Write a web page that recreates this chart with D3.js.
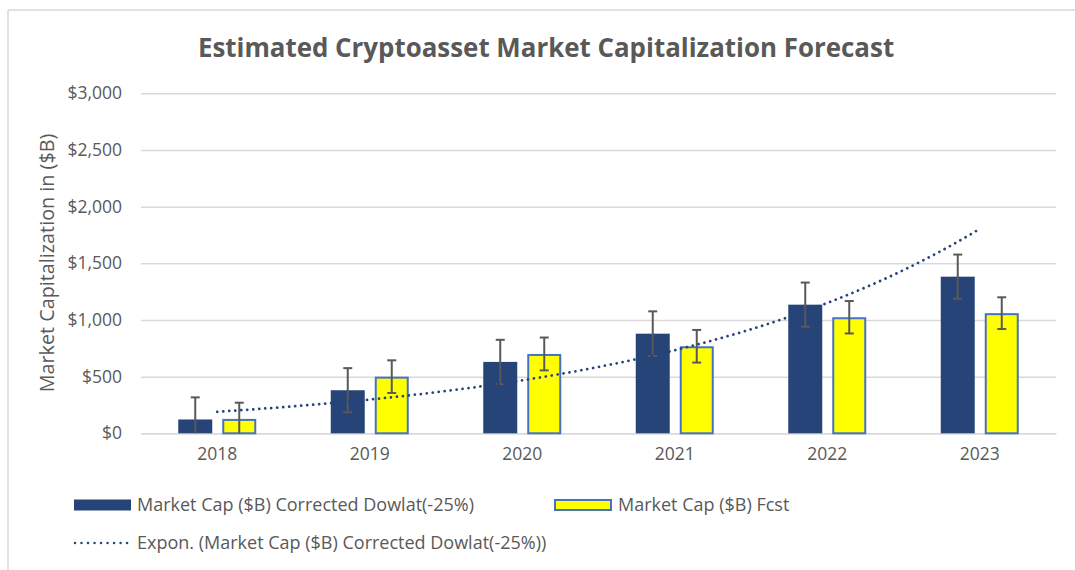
<!DOCTYPE html>
<html>
<head>
<meta charset="utf-8">
<script src="https://cdn.jsdelivr.net/npm/d3@7"></script>
<style>
  body { margin: 0; background: #fff; }
  text { font-family: "Open Sans", sans-serif; fill: #595959; }
</style>
</head>
<body>
<div id="chart"></div>
<script>
// data
var years = ["2018", "2019", "2020", "2021", "2022", "2023"];
var corrected = [122, 380, 630, 879, 1135, 1382];   // Market Cap ($B) Corrected Dowlat(-25%)
var fcst = [127, 500, 700, 768, 1024, 1060];        // Market Cap ($B) Fcst
var errCorrected = [195, 195, 195, 197, 195, 195];
var errFcst = [143, 144, 145, 144, 143, 140];
var yTicks = [0, 500, 1000, 1500, 2000, 2500, 3000];
var seriesNames = ["Market Cap ($B) Corrected Dowlat(-25%)", "Market Cap ($B) Fcst"];
var trendName = "Expon. (Market Cap ($B) Corrected Dowlat(-25%))";

var W = 1075, H = 570;
var plot = {left: 141, right: 1056, top: 93.3, bottom: 433.3};
var darkBlue = "#264478", yellow = "#FFFF00", yellowEdge = "#4472C4", grid = "#d9d9d9";

var svg = d3.select("#chart").append("svg")
    .attr("width", W)
    .attr("height", H);

// chart frame (only top and left edges show)
svg.append("line").attr("x1", 8).attr("x2", W).attr("y1", 10).attr("y2", 10)
  .attr("stroke", grid).attr("stroke-width", 1.5);
svg.append("line").attr("x1", 8).attr("x2", 8).attr("y1", 10).attr("y2", H)
  .attr("stroke", grid).attr("stroke-width", 1.5);

// title
svg.append("text")
  .attr("x", 546).attr("y", 57)
  .attr("text-anchor", "middle")
  .style("font-size", "25.9px")
  .style("font-weight", "bold")
  .text("Estimated Cryptoasset Market Capitalization Forecast");

// scales
var x = d3.scaleBand().domain(years).range([plot.left, plot.right]).padding(0);
var x1 = d3.scaleBand().domain([0, 1])
  .range([(x.bandwidth() - 78) / 2, (x.bandwidth() + 78) / 2])
  .paddingInner(10 / 44).paddingOuter(0);
var y = d3.scaleLinear().domain([0, 3000]).range([plot.bottom, plot.top]);

// gridlines + y labels
var yAxis = svg.append("g")
  .attr("transform", "translate(" + plot.left + ",0)")
  .call(d3.axisLeft(y).tickValues(yTicks).tickSize(-(plot.right - plot.left))
    .tickFormat(function(d) { return "$" + d3.format(",")(d); }));
yAxis.select(".domain").remove();
yAxis.selectAll(".tick line").attr("stroke", grid).attr("stroke-width", 1.5);
yAxis.selectAll(".tick text")
  .attr("x", -19)
  .style("font-size", "17.5px")
  .style("fill", "#595959");

// y axis title
svg.append("text")
  .attr("transform", "translate(54,263) rotate(-90)")
  .attr("text-anchor", "middle")
  .style("font-size", "19.8px")
  .text("Market Capitalization in ($B)");

// x axis
var xAxis = svg.append("g")
  .attr("transform", "translate(0," + plot.bottom + ")")
  .call(d3.axisBottom(x).tickSize(0).tickPadding(14));
xAxis.select(".domain").attr("stroke", grid).attr("stroke-width", 1.5);
xAxis.selectAll(".tick text")
  .style("font-size", "17.5px")
  .style("fill", "#595959");

// bars
var rows = years.map(function(yr, i) {
  return {year: yr, vals: [corrected[i], fcst[i]], errs: [errCorrected[i], errFcst[i]]};
});

var groups = svg.append("g").selectAll("g")
  .data(rows)
  .enter().append("g")
    .attr("transform", function(d) { return "translate(" + x(d.year) + ",0)"; });

groups.selectAll("rect")
  .data(function(d) { return d.vals; })
  .enter().append("rect")
    .attr("x", function(d, j) { return x1(j) + (j == 1 ? 1 : 0); })
    .attr("width", function(d, j) { return x1.bandwidth() - (j == 1 ? 2 : 0); })
    .attr("y", function(d, j) { return y(d) + (j == 1 ? 1 : 0); })
    .attr("height", function(d, j) { return y(0) - y(d) - (j == 1 ? 1 : 0); })
    .attr("fill", function(d, j) { return j == 0 ? darkBlue : yellow; })
    .attr("stroke", function(d, j) { return j == 0 ? "none" : yellowEdge; })
    .attr("stroke-width", 2);

// error bars
groups.each(function(d) {
  var g = d3.select(this);
  d.vals.forEach(function(v, j) {
    var cx = x1(j) + x1.bandwidth() / 2;
    var hi = v + d.errs[j], lo = Math.max(0, v - d.errs[j]);
    g.append("line").attr("x1", cx).attr("x2", cx).attr("y1", y(hi)).attr("y2", y(lo))
      .attr("stroke", "#595959").attr("stroke-width", 2);
    g.append("line").attr("x1", cx - 4.5).attr("x2", cx + 4.5).attr("y1", y(hi)).attr("y2", y(hi))
      .attr("stroke", "#595959").attr("stroke-width", 2);
    if (lo > 0) {
      g.append("line").attr("x1", cx - 4.5).attr("x2", cx + 4.5).attr("y1", y(lo)).attr("y2", y(lo))
        .attr("stroke", "#595959").attr("stroke-width", 2);
    }
  });
});

// exponential trendline fitted to the corrected series (like Excel's Expon.)
var n = corrected.length;
var xs = d3.range(1, n + 1);
var lns = corrected.map(function(v) { return Math.log(v); });
var mx = d3.mean(xs), ml = d3.mean(lns);
var b = d3.sum(xs, function(v, i) { return (v - mx) * (lns[i] - ml); }) /
        d3.sum(xs, function(v) { return (v - mx) * (v - mx); });
var a = ml - b * mx;
var tx = d3.scaleLinear().domain([1, n])
  .range([x(years[0]) + x.bandwidth() / 2, x(years[n - 1]) + x.bandwidth() / 2]);
var trendPts = d3.range(0, 101).map(function(k) {
  var t = 1 + (n - 1) * k / 100;
  return [tx(t), y(Math.exp(a + b * t))];
});
svg.append("path")
  .attr("d", d3.line()(trendPts))
  .attr("fill", "none")
  .attr("stroke", darkBlue)
  .attr("stroke-width", 2.75)
  .attr("stroke-linecap", "round")
  .attr("stroke-dasharray", "0.01,6");

// legend
svg.append("rect").attr("x", 74).attr("y", 499.5).attr("width", 57).attr("height", 11)
  .attr("fill", darkBlue);
svg.append("text").attr("x", 137).attr("y", 511).style("font-size", "18px").text(seriesNames[0]);

svg.append("rect").attr("x", 555).attr("y", 500).attr("width", 56).attr("height", 10)
  .attr("fill", yellow).attr("stroke", yellowEdge).attr("stroke-width", 2);
svg.append("text").attr("x", 618).attr("y", 511).style("font-size", "18px").text(seriesNames[1]);

svg.append("line").attr("x1", 75).attr("x2", 128).attr("y1", 543).attr("y2", 543)
  .attr("stroke", darkBlue).attr("stroke-width", 2.5)
  .attr("stroke-linecap", "round").attr("stroke-dasharray", "0.01,6.5");
svg.append("text").attr("x", 137).attr("y", 549).style("font-size", "18px").text(trendName);
</script>
</body>
</html>
